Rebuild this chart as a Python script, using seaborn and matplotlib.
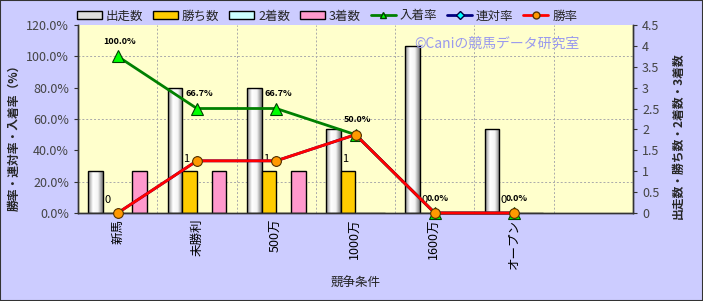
import numpy as np
import pandas as pd
import matplotlib
matplotlib.use("Agg")
import matplotlib.pyplot as plt
import seaborn as sns
from matplotlib.patches import Patch, Rectangle
from matplotlib.lines import Line2D
from matplotlib.colors import LinearSegmentedColormap

# ---------------- data ----------------
categories = ['新馬', '未勝利', '500万', '1000万', '1600万', 'オープン']
starts = [1, 3, 3, 2, 4, 2]
wins = [0, 1, 1, 1, 0, 0]
seconds = [0, 0, 0, 0, 0, 0]
thirds = [1, 1, 1, 0, 0, 0]
place_rate = [100.0, 66.7, 66.7, 50.0, 0.0, 0.0]
rentai_rate = [0.0, 33.3, 33.3, 50.0, 0.0, 0.0]
win_rate = [0.0, 33.3, 33.3, 50.0, 0.0, 0.0]
bar_series = ['出走数', '勝ち数', '2着数', '3着数']
line_series = ['入着率', '連対率', '勝率']
left_ticks = [0, 20, 40, 60, 80, 100, 120]
right_ticks = [0, 0.5, 1, 1.5, 2, 2.5, 3, 3.5, 4, 4.5]
right_ticklabels = ['0', '0.5', '1', '1.5', '2', '2.5', '3', '3.5', '4', '4.5']

sns.set_style("white")
plt.rcParams['font.family'] = ['Noto Sans CJK JP', 'DejaVu Sans']

bar_colors = ['#FFFFFF', '#FFCC00', '#CCFFFF', '#FF99CC']
BG = '#CCCCFF'
PLOT_BG = '#FFFFCC'

df = pd.DataFrame({
    'cat': categories * 4,
    'series': sum([[s] * len(categories) for s in bar_series], []),
    'val': starts + wins + seconds + thirds,
})

fig = plt.figure(figsize=(7.03, 3.01), dpi=100, facecolor=BG)
ax = fig.add_axes([78 / 703, 1 - 213 / 301, (633 - 78) / 703, (213 - 25) / 301])
ax.set_facecolor(PLOT_BG)

sns.barplot(data=df, x='cat', y='val', hue='series', order=categories,
            hue_order=bar_series, palette=bar_colors, width=0.74,
            edgecolor='black', linewidth=1.0, saturation=1, ax=ax,
            legend=False, errorbar=None)

# gradient for 出走数 bars
cmap = LinearSegmentedColormap.from_list('g', ['#8c8c8c', '#ffffff', '#f4f4f4', '#7a7a7a'])
grad = np.linspace(0, 1, 64).reshape(1, -1)
for bar in ax.containers[0]:
    x0, y0 = bar.get_x(), bar.get_y()
    w, h = bar.get_width(), bar.get_height()
    if h <= 0:
        continue
    bar.set_facecolor('none')
    im = ax.imshow(grad, extent=[x0, x0 + w, y0, y0 + h], aspect='auto',
                   cmap=cmap, zorder=bar.get_zorder() - 0.01, interpolation='bilinear')
    im.set_clip_path(bar)
ax.set_xlim(-0.5, 6.5)
ax.set_ylim(0, 4.5)

# 勝ち数 labels
for i, bar in enumerate(ax.containers[1]):
    cx = bar.get_x() + bar.get_width() / 2
    ax.text(cx - 0.04, bar.get_height() + 0.18, f'{wins[i]}', ha='center', va='bottom',
            fontsize=8, color='black', zorder=6)

# grids behind bars
ax.set_axisbelow(True)
ax.set_xticks(np.arange(0.5, 6.5, 1), minor=True)
ax.set_yticks(np.array(left_ticks[1:-1]) * 4.5 / 120, minor=True)
ax.grid(which='minor', axis='both', color='#aaaaaa', linestyle=(0, (2, 2)), linewidth=0.7)
ax.grid(which='major', visible=False)
ax.tick_params(which='minor', length=0)

ax.set_xticks(range(len(categories)))
ax.set_xticklabels(categories, rotation=90, fontsize=9, color='black')
ax.tick_params(axis='x', which='major', length=0, pad=4)
ax.set_xlabel('競争条件', fontsize=9, color='#222222', labelpad=6)

# lines on twin axis
ax2 = ax.twinx()
xs = np.arange(len(categories))
sns.lineplot(x=xs, y=place_rate, ax=ax2, color='#008000', linewidth=2,
             marker='^', markersize=8, markerfacecolor='#00FF00', markeredgecolor='#004000',
             markeredgewidth=0.8, sort=False, zorder=3)
sns.lineplot(x=xs, y=rentai_rate, ax=ax2, color='#000080', linewidth=2,
             marker='D', markersize=5, markerfacecolor='#00FFFF', markeredgecolor='#000040',
             markeredgewidth=0.8, sort=False, zorder=4)
sns.lineplot(x=xs, y=win_rate, ax=ax2, color='#FF0000', linewidth=2,
             marker='o', markersize=7, markerfacecolor='#FF9900', markeredgecolor='#553300',
             markeredgewidth=0.8, sort=False, zorder=5)
for line in ax2.lines:
    line.set_clip_on(False)

for i, v in enumerate(place_rate):
    ax2.text(xs[i] + 0.03, v + 6.5, f'{v:.1f}%', ha='center', va='bottom',
             fontsize=6.5, fontweight='bold', color='black', zorder=7)

ax2.set_xlim(-0.5, 6.5)
ax2.set_ylim(0, 120)

# axis sides: bars -> right, rates -> left
ax.yaxis.tick_right()
ax.yaxis.set_label_position('right')
ax.set_yticks(right_ticks)
ax.set_yticklabels(right_ticklabels, fontsize=9, color='#444444')
ax.tick_params(axis='y', which='major', direction='out', length=3, width=0.8,
               color='#333333', right=True, left=False, labelright=True, labelleft=False)
ax.set_ylabel('出走数・勝ち数・2着数・3着数', fontsize=8.5, fontweight='bold', rotation=90)
ax.yaxis.set_label_coords((672 - 78) / 555, (213 - 136) / 188)

ax2.yaxis.tick_left()
ax2.yaxis.set_label_position('left')
ax2.set_yticks(left_ticks)
ax2.set_yticklabels([f'{t:.1f}%' for t in left_ticks], fontsize=9, color='#444444')
ax2.tick_params(axis='y', direction='out', length=3, width=0.8, color='#333333',
                left=True, right=False, labelleft=True, labelright=False)
ax2.set_ylabel('勝率・連対率・入着率（%）', fontsize=8.5, fontweight='bold')
ax2.yaxis.set_label_coords((21 - 78) / 555, (213 - 135) / 188)
ax2.grid(False)

for a in (ax, ax2):
    a.spines['top'].set_visible(False)
    for s in ('left', 'right', 'bottom'):
        a.spines[s].set_color('#333333')
        a.spines[s].set_linewidth(1.0)

# watermark
ax2.text(0.755, 0.9, '©Caniの競馬データ研究室', transform=ax.transAxes, ha='center',
         va='center', fontsize=10, color='#9999EE', zorder=8)

# legend
handles = [Patch(facecolor=c if c != '#FFFFFF' else '#dddddd', edgecolor='black', linewidth=1)
           for c in bar_colors]
handles += [
    Line2D([], [], color='#008000', lw=2, marker='^', ms=5, mfc='#00FF00', mec='#004000'),
    Line2D([], [], color='#000080', lw=2, marker='D', ms=4, mfc='#00FFFF', mec='#000040'),
    Line2D([], [], color='#FF0000', lw=2, marker='o', ms=5, mfc='#FF9900', mec='#553300'),
]
fig.legend(handles, bar_series + line_series, loc='center', ncol=7,
           bbox_to_anchor=(327 / 703, 1 - 16 / 301), frameon=False, fontsize=9,
           handlelength=2.0, handleheight=0.6, handletextpad=0.3, columnspacing=0.8)

fig.patches.append(Rectangle((0, 0), 1, 1, transform=fig.transFigure, fill=False,
                             edgecolor='#333333', linewidth=1.5))

fig.savefig('out.png', dpi=100, facecolor=BG)
